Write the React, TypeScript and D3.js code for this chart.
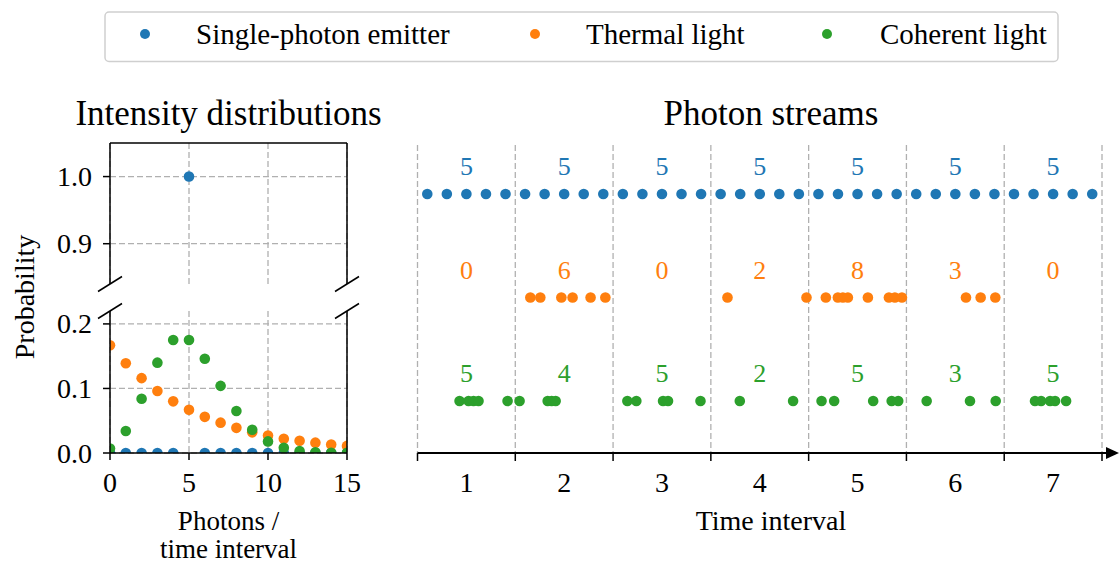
import React from "react";
import * as d3 from "d3";

// ---------- data ----------
const photonNumbers = [0, 1, 2, 3, 4, 5, 6, 7, 8, 9, 10, 11, 12, 13, 14, 15];
const singleProb = [0, 0, 0, 0, 0, 1.0, 0, 0, 0, 0, 0, 0, 0, 0, 0, 0];
const thermalProb = [0.167, 0.139, 0.116, 0.096, 0.080, 0.067, 0.056, 0.047, 0.039, 0.032, 0.027, 0.022, 0.019, 0.016, 0.013, 0.011];
const coherentProb = [0.007, 0.034, 0.084, 0.140, 0.175, 0.175, 0.146, 0.104, 0.065, 0.036, 0.018, 0.008, 0.003, 0.001, 0.0005, 0.0002];

const timeIntervals = [1, 2, 3, 4, 5, 6, 7];
const singleTimes = [
  0.6, 0.8, 1.0, 1.2, 1.4,
  1.6, 1.8, 2.0, 2.2, 2.4,
  2.6, 2.8, 3.0, 3.2, 3.4,
  3.6, 3.8, 4.0, 4.2, 4.4,
  4.6, 4.8, 5.0, 5.2, 5.4,
  5.6, 5.8, 6.0, 6.2, 6.4,
  6.6, 6.8, 7.0, 7.2, 7.4,
];
const thermalTimes = [
  1.654, 1.756, 1.971, 2.086, 2.27, 2.421,
  3.67, 4.478,
  4.676, 4.799, 4.85, 4.901, 5.106, 5.321, 5.382, 5.454,
  6.109, 6.259, 6.409,
];
const coherentTimes = [
  0.93, 1.022, 1.073, 1.124, 1.421,
  1.544, 1.831, 1.872, 1.913,
  2.646, 2.738, 3.011, 3.062, 3.394,
  3.796, 4.341,
  4.632, 4.761, 5.16, 5.349, 5.416,
  5.707, 6.15, 6.413,
  6.815, 6.877, 6.969, 7.02, 7.133,
];
const singleCounts = [5, 5, 5, 5, 5, 5, 5];
const thermalCounts = [0, 6, 0, 2, 8, 3, 0];
const coherentCounts = [5, 4, 5, 2, 5, 3, 5];

const seriesNames = ["Single-photon emitter", "Thermal light", "Coherent light"];
const seriesColors = ["#1f77b4", "#ff7f0e", "#2ca02c"];

const xTicksLeft = [0, 5, 10, 15];
const yTicksTop = [0.9, 1.0];
const yTicksBottom = [0.0, 0.1, 0.2];
const dividerPositions = [0.5, 1.5, 2.5, 3.5, 4.5, 5.5, 6.5, 7.5];

// ---------- layout ----------
const W = 1120;
const H = 563;
const FONT = "'Liberation Serif', 'DejaVu Serif', serif";
const FS = 28;
const LEGEND_FS = 29;
const TITLE_FS = 35;
const GRID = "#b0b0b0";
const R = 5.3;

export default function App() {
  const xL = d3.scaleLinear().domain([0, 15]).range([110, 347]);
  const yTop = d3.scaleLinear().domain([0.84, 1.05]).range([284, 143]);
  const yBot = d3.scaleLinear().domain([0, 0.22]).range([453, 311]);

  const xR = d3.scaleLinear().domain([0.5, 7.5]).range([417.5, 1102]);
  const rowY = d3.scaleLinear().domain([0, 2]).range([194, 401]);

  const leftX0 = xL.range()[0];
  const leftX1 = xL.range()[1];
  const topY0 = yTop.range()[1];
  const topY1 = yTop.range()[0];
  const botY0 = yBot.range()[1];
  const botY1 = yBot.range()[0];

  const probSeries = [singleProb, thermalProb, coherentProb];
  const streamSeries = [singleTimes, thermalTimes, coherentTimes];
  const countSeries = [singleCounts, thermalCounts, coherentCounts];

  const breakMark = (x: number, y: number, key: string) => (
    <line key={key} x1={x - 12} y1={y + 7.5} x2={x + 12} y2={y - 7.5} stroke="#000" strokeWidth={1.5} />
  );

  const axisEnd = 1119;
  const axisY = botY1;

  const legendItems = [
    { dot: 145, text: 196 },
    { dot: 535, text: 586 },
    { dot: 827, text: 880 },
  ];

  return (
    <svg
      width={W}
      height={H}
      style={{ position: "absolute", left: 0, top: 0, background: "#fff" }}
      fontFamily={FONT}
    >
      <defs>
        <clipPath id="clipTop">
          <rect x={leftX0} y={topY0} width={leftX1 - leftX0} height={topY1 - topY0} />
        </clipPath>
        <clipPath id="clipBot">
          <rect x={leftX0} y={botY0} width={leftX1 - leftX0} height={botY1 - botY0} />
        </clipPath>
      </defs>
      <rect x={0} y={0} width={W} height={H} fill="#fff" />

      {/* Legend */}
      <rect x={105} y={12} width={953} height={49.5} rx={4} fill="#fff" stroke="#cfcfcf" strokeWidth={1.5} />
      {seriesNames.map((name, i) => (
        <g key={name}>
          <circle cx={legendItems[i].dot} cy={34} r={5} fill={seriesColors[i]} />
          <text x={legendItems[i].text} y={44} fontSize={LEGEND_FS} fill="#000">
            {name}
          </text>
        </g>
      ))}

      {/* Titles */}
      <text x={(leftX0 + leftX1) / 2} y={124.5} fontSize={TITLE_FS} textAnchor="middle">
        Intensity distributions
      </text>
      <text x={771} y={124.5} fontSize={TITLE_FS} textAnchor="middle">
        Photon streams
      </text>

      {/* ---- Left: top axes ---- */}
      <g>
        {xTicksLeft.map((t) => (
          <line key={"gvt" + t} x1={xL(t)} x2={xL(t)} y1={topY0} y2={topY1} stroke={GRID} strokeWidth={1.3} strokeDasharray="6,3" />
        ))}
        {yTicksTop.map((t) => (
          <line key={"ght" + t} x1={leftX0} x2={leftX1} y1={yTop(t)} y2={yTop(t)} stroke={GRID} strokeWidth={1.3} strokeDasharray="6,3" />
        ))}
        <g clipPath="url(#clipTop)">
          {probSeries.map((s, si) =>
            s.map((p, k) => (
              <circle key={`pt${si}-${k}`} cx={xL(photonNumbers[k])} cy={yTop(p)} r={R} fill={seriesColors[si]} />
            ))
          )}
        </g>
        <line x1={leftX0} x2={leftX0} y1={topY0} y2={topY1} stroke="#000" strokeWidth={1.5} />
        <line x1={leftX1} x2={leftX1} y1={topY0} y2={topY1} stroke="#000" strokeWidth={1.5} />
        <line x1={leftX0} x2={leftX1} y1={topY0} y2={topY0} stroke="#000" strokeWidth={1.5} />
        {yTicksTop.map((t) => (
          <g key={"yt" + t}>
            <line x1={leftX0 - 7} x2={leftX0} y1={yTop(t)} y2={yTop(t)} stroke="#000" strokeWidth={1.5} />
            <text x={leftX0 - 18} y={yTop(t) + 9.5} fontSize={FS} textAnchor="end">
              {d3.format(".1f")(t)}
            </text>
          </g>
        ))}
        {breakMark(leftX0, topY1, "b1")}
        {breakMark(leftX1, topY1, "b2")}
      </g>

      {/* ---- Left: bottom axes ---- */}
      <g>
        {xTicksLeft.map((t) => (
          <line key={"gvb" + t} x1={xL(t)} x2={xL(t)} y1={botY0} y2={botY1} stroke={GRID} strokeWidth={1.3} strokeDasharray="6,3" />
        ))}
        {yTicksBottom.map((t) => (
          <line key={"ghb" + t} x1={leftX0} x2={leftX1} y1={yBot(t)} y2={yBot(t)} stroke={GRID} strokeWidth={1.3} strokeDasharray="6,3" />
        ))}
        <g clipPath="url(#clipBot)">
          {probSeries.map((s, si) =>
            s.map((p, k) => (
              <circle key={`pb${si}-${k}`} cx={xL(photonNumbers[k])} cy={yBot(p)} r={R} fill={seriesColors[si]} />
            ))
          )}
        </g>
        <line x1={leftX0} x2={leftX0} y1={botY0} y2={botY1} stroke="#000" strokeWidth={1.5} />
        <line x1={leftX1} x2={leftX1} y1={botY0} y2={botY1} stroke="#000" strokeWidth={1.5} />
        <line x1={leftX0} x2={leftX1} y1={botY1} y2={botY1} stroke="#000" strokeWidth={1.5} />
        {yTicksBottom.map((t) => (
          <g key={"yb" + t}>
            <line x1={leftX0 - 7} x2={leftX0} y1={yBot(t)} y2={yBot(t)} stroke="#000" strokeWidth={1.5} />
            <text x={leftX0 - 18} y={yBot(t) + 9.5} fontSize={FS} textAnchor="end">
              {d3.format(".1f")(t)}
            </text>
          </g>
        ))}
        {xTicksLeft.map((t) => (
          <g key={"xb" + t}>
            <line x1={xL(t)} x2={xL(t)} y1={botY1} y2={botY1 + 7} stroke="#000" strokeWidth={1.5} />
            <text x={xL(t)} y={492} fontSize={FS} textAnchor="middle">
              {t}
            </text>
          </g>
        ))}
        {breakMark(leftX0, botY0, "b3")}
        {breakMark(leftX1, botY0, "b4")}
        <text x={(leftX0 + leftX1) / 2} y={530} fontSize={27} textAnchor="middle">
          Photons /
        </text>
        <text x={(leftX0 + leftX1) / 2} y={558} fontSize={27} textAnchor="middle">
          time interval
        </text>
      </g>

      {/* y label */}
      <text transform={`translate(34, 297) rotate(-90)`} fontSize={FS} textAnchor="middle">
        Probability
      </text>

      {/* ---- Right: photon streams ---- */}
      <g>
        {dividerPositions.map((d) => (
          <line key={"dv" + d} x1={xR(d)} x2={xR(d)} y1={145} y2={axisY} stroke={GRID} strokeWidth={1.3} strokeDasharray="6,3" />
        ))}
        {streamSeries.map((s, si) =>
          s.map((t, k) => (
            <circle key={`s${si}-${k}`} cx={xR(t)} cy={rowY(si)} r={R} fill={seriesColors[si]} />
          ))
        )}
        {countSeries.map((c, si) =>
          c.map((n, k) => (
            <text key={`c${si}-${k}`} x={xR(timeIntervals[k])} y={rowY(si) - 19} fontSize={26} textAnchor="middle" fill={seriesColors[si]}>
              {n}
            </text>
          ))
        )}
        <line x1={xR(0.5)} x2={axisEnd - 8} y1={axisY} y2={axisY} stroke="#000" strokeWidth={2} />
        <path d={`M${axisEnd},${axisY} L${axisEnd - 13},${axisY - 6} L${axisEnd - 13},${axisY + 6} Z`} fill="#000" />
        {dividerPositions.map((d) => (
          <line key={"tk" + d} x1={xR(d)} x2={xR(d)} y1={axisY} y2={axisY + 8} stroke="#000" strokeWidth={1.5} />
        ))}
        {timeIntervals.map((t) => (
          <text key={"tl" + t} x={xR(t)} y={492} fontSize={FS} textAnchor="middle">
            {t}
          </text>
        ))}
        <text x={771} y={530} fontSize={FS} textAnchor="middle">
          Time interval
        </text>
      </g>
    </svg>
  );
}
